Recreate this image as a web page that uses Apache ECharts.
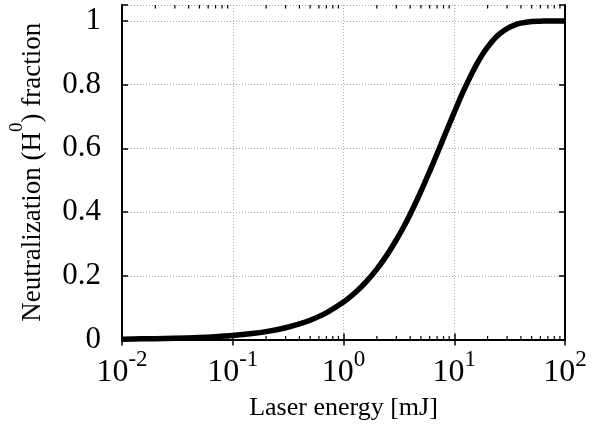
<!DOCTYPE html>
<html>
<head>
<meta charset="utf-8">
<script src="https://cdn.jsdelivr.net/npm/echarts@6/dist/echarts.min.js"></script>
<style>html,body{margin:0;padding:0;background:#fff;}#c{width:604px;height:427px;}</style>
</head>
<body>
<div id="c"></div>
<script>
// Data
const energy = [0.01, 0.015, 0.02, 0.03, 0.05, 0.07, 0.1, 0.15, 0.2, 0.3, 0.4, 0.5, 0.7, 1, 1.3, 1.6, 2, 2.5, 3, 3.5, 4, 5, 6, 7, 8, 9, 10, 12, 14, 16, 18, 20, 23, 26, 30, 35, 40, 50, 60, 70, 85, 100];
const fraction = [0.001, 0.002, 0.0025, 0.0037, 0.0062, 0.0087, 0.0124, 0.0186, 0.0247, 0.0368, 0.0488, 0.0606, 0.0838, 0.1175, 0.150, 0.181, 0.221, 0.268, 0.313, 0.354, 0.393, 0.465, 0.528, 0.583, 0.632, 0.675, 0.713, 0.777, 0.826, 0.865, 0.895, 0.918, 0.944, 0.961, 0.976, 0.987, 0.993, 0.998, 0.999, 1.0, 1.0, 1.0];
const xTickValues = [0.01, 0.1, 1, 10, 100];
const yTickLabels = ['0', '0.2', '0.4', '0.6', '0.8', '1'];
const minorTickValues = [];
[0.01, 0.1, 1, 10].forEach(function (d) { for (let k = 2; k <= 9; k++) minorTickValues.push(+(d * k).toPrecision(3)); });

const FONT = 'Liberation Serif';
const chart = echarts.init(document.getElementById('c'), null, {renderer: 'canvas'});
const lineBlack = {show: true, lineStyle: {color: '#000', width: 2}};
const split = {show: true, lineStyle: {color: '#aaa', type: [1, 2], width: 1}};

const option = {
  animation: false,
  backgroundColor: '#fff',
  grid: {left: 119, right: 39, top: 5, bottom: 87.5, containLabel: false},
  xAxis: [{
    type: 'log', logBase: 10, min: 0.01, max: 100, position: 'bottom',
    axisLine: lineBlack,
    axisTick: {show: true, inside: true, length: 6, lineStyle: {color: '#000', width: 1.5}},
    splitLine: split,
    axisLabel: {
      margin: 9,
      formatter: function (v) {
        const e = Math.round(Math.log10(v));
        return '{b|10}{s|' + e + '}';
      },
      rich: {
        b: {fontFamily: FONT, fontSize: 32, color: '#000', lineHeight: 40, verticalAlign: 'bottom'},
        s: {fontFamily: FONT, fontSize: 23, color: '#000', lineHeight: 25, verticalAlign: 'top'}
      }
    },
    name: 'Laser energy [mJ]', nameLocation: 'middle', nameGap: 56,
    nameTextStyle: {fontFamily: FONT, fontSize: 26, color: '#000'}
  }, {
    type: 'log', logBase: 10, min: 0.01, max: 100, position: 'top',
    axisLine: lineBlack,
    axisTick: {show: true, inside: true, length: 6, lineStyle: {color: '#000', width: 1.5}},
    axisLabel: {show: false}, splitLine: {show: false}
  }],
  yAxis: [{
    type: 'value', min: 0, max: 1.05, interval: 0.2, position: 'left',
    axisLine: lineBlack,
    axisTick: {show: true, inside: true, length: 6, lineStyle: {color: '#000', width: 1.5}},
    splitLine: split,
    axisLabel: {
      margin: 21, fontFamily: FONT, fontSize: 31, color: '#000',
      formatter: function (v) {
        const i = Math.round(v / 0.2);
        return Math.abs(v - i * 0.2) < 1e-6 && i < yTickLabels.length ? yTickLabels[i] : '';
      }
    },
    name: '{n|Neutralization (H}{s|0}{n|) fraction}', nameLocation: 'middle', nameGap: 76, nameRotate: 90,
    nameTextStyle: {
      rich: {
        n: {fontFamily: FONT, fontSize: 27, color: '#000', lineHeight: 38, verticalAlign: 'bottom'},
        s: {fontFamily: FONT, fontSize: 19, color: '#000', lineHeight: 28, verticalAlign: 'top'}
      }
    }
  }, {
    type: 'value', min: 0, max: 1.05, interval: 0.2, position: 'right',
    axisLine: lineBlack,
    axisTick: {show: true, inside: true, length: 6, lineStyle: {color: '#000', width: 1.5}},
    axisLabel: {show: false}, splitLine: {show: false}
  }],
  series: [{
    type: 'custom', xAxisIndex: 0, yAxisIndex: 0, silent: true, z: 3,
    data: minorTickValues.map(function (v) { return [v]; }),
    renderItem: function (params, api) {
      const b = api.coord([api.value(0), 0]);
      const t = api.coord([api.value(0), 1.05]);
      const st = {stroke: '#000', lineWidth: 1.2};
      return {type: 'group', children: [
        {type: 'line', shape: {x1: b[0], y1: b[1], x2: b[0], y2: b[1] - 3.5}, style: st},
        {type: 'line', shape: {x1: t[0], y1: t[1], x2: t[0], y2: t[1] + 3.5}, style: st}
      ]};
    },
    encode: {x: 0}
  }, {
    type: 'line', xAxisIndex: 0, yAxisIndex: 0, z: 5,
    data: energy.map(function (e, i) { return [e, fraction[i]]; }),
    showSymbol: false, smooth: 0.3,
    lineStyle: {color: '#000', width: 5.5, cap: 'butt', join: 'round'}
  }]
};
chart.setOption(option);
</script>
</body>
</html>
